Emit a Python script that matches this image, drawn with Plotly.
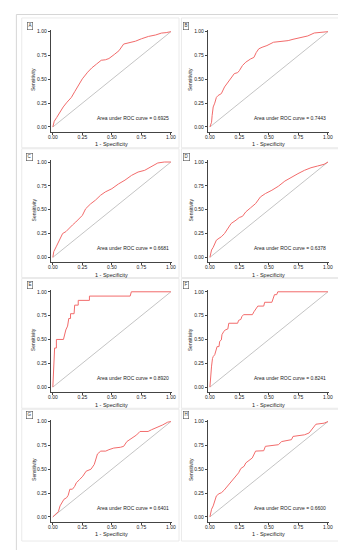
import plotly.graph_objects as go

# ---------------- data ----------------
panel_labels = ["A", "B", "C", "D", "E", "F", "G", "H"]
auc_values = ["0.6925", "0.7443", "0.6681", "0.6378", "0.8920", "0.8241", "0.6401", "0.6600"]

fpr_A = [0, 0.012, 0.033, 0.06, 0.088, 0.12, 0.157, 0.185, 0.21, 0.25, 0.295, 0.33, 0.37, 0.41, 0.445,
         0.475, 0.52, 0.56, 0.60, 0.65, 0.70, 0.75, 0.81, 0.87, 0.92, 0.96, 1.0]
tpr_A = [0, 0.06, 0.10, 0.16, 0.21, 0.26, 0.31, 0.37, 0.42, 0.505, 0.575, 0.62, 0.66, 0.70, 0.705,
         0.718, 0.76, 0.80, 0.87, 0.885, 0.90, 0.925, 0.95, 0.965, 0.985, 0.99, 1.0]

fpr_B = [0, 0.006, 0.014, 0.019, 0.028, 0.041, 0.055, 0.069, 0.097, 0.124, 0.152, 0.18, 0.207, 0.235,
         0.249, 0.276, 0.304, 0.345, 0.373, 0.392, 0.414, 0.442, 0.483, 0.539, 0.608, 0.663, 0.704,
         0.773, 0.829, 0.884, 0.939, 1.0]
tpr_B = [0, 0.035, 0.05, 0.12, 0.21, 0.25, 0.31, 0.33, 0.35, 0.42, 0.47, 0.52, 0.56, 0.57,
         0.59, 0.645, 0.68, 0.714, 0.73, 0.78, 0.82, 0.836, 0.854, 0.889, 0.895, 0.906, 0.92,
         0.94, 0.955, 0.986, 0.993, 1.0]

fpr_C = [0, 0.008, 0.028, 0.05, 0.069, 0.083, 0.111, 0.139, 0.167, 0.194, 0.222, 0.25, 0.278, 0.319,
         0.361, 0.403, 0.444, 0.5, 0.556, 0.611, 0.667, 0.722, 0.778, 0.833, 0.889, 0.944, 1.0]
tpr_C = [0, 0.06, 0.11, 0.164, 0.2, 0.25, 0.27, 0.30, 0.34, 0.37, 0.41, 0.44, 0.51, 0.56,
         0.6, 0.65, 0.686, 0.72, 0.77, 0.81, 0.86, 0.895, 0.913, 0.948, 0.99, 1.0, 1.0]

fpr_D = [0, 0.006, 0.014, 0.028, 0.041, 0.055, 0.077, 0.097, 0.124, 0.152, 0.18, 0.221, 0.249, 0.276,
         0.304, 0.345, 0.387, 0.428, 0.47, 0.525, 0.58, 0.635, 0.691, 0.746, 0.801, 0.856, 0.912,
         0.967, 1.0]
tpr_D = [0, 0.04, 0.077, 0.105, 0.146, 0.18, 0.2, 0.216, 0.25, 0.30, 0.355, 0.39, 0.418, 0.43,
         0.477, 0.52, 0.564, 0.634, 0.669, 0.704, 0.746, 0.80, 0.843, 0.878, 0.913, 0.94, 0.958,
         0.976, 1.0]

fpr_E = [0, 0.005, 0.01, 0.015, 0.03, 0.03, 0.09, 0.1, 0.11, 0.125, 0.135, 0.15, 0.15, 0.18, 0.185,
         0.215, 0.215, 0.31, 0.31, 0.655, 0.665, 1.0]
tpr_E = [0, 0.2, 0.32, 0.41, 0.41, 0.5, 0.5, 0.55, 0.6, 0.64, 0.72, 0.72, 0.77, 0.77, 0.86,
         0.86, 0.91, 0.91, 0.955, 0.955, 1.0, 1.0]

fpr_F = [0, 0.006, 0.014, 0.022, 0.028, 0.041, 0.055, 0.061, 0.077, 0.083, 0.097, 0.102, 0.116, 0.13,
         0.152, 0.160, 0.235, 0.243, 0.262, 0.271, 0.285, 0.36, 0.373, 0.392, 0.406, 0.456, 0.464,
         0.525, 0.533, 0.547, 0.566, 0.575, 1.0]
tpr_F = [0, 0.13, 0.22, 0.30, 0.32, 0.34, 0.39, 0.425, 0.425, 0.48, 0.495, 0.55, 0.58, 0.60,
         0.61, 0.67, 0.67, 0.70, 0.71, 0.74, 0.76, 0.76, 0.79, 0.826, 0.85, 0.85, 0.89,
         0.89, 0.93, 0.97, 0.97, 1.0, 1.0]

fpr_G = [0, 0.014, 0.033, 0.047, 0.061, 0.075, 0.094, 0.116, 0.130, 0.144, 0.166, 0.185, 0.199, 0.227,
         0.254, 0.282, 0.323, 0.351, 0.378, 0.406, 0.448, 0.475, 0.516, 0.572, 0.6, 0.627, 0.669,
         0.71, 0.738, 0.807, 0.834, 0.890, 0.931, 0.972, 1.0]
tpr_G = [0, 0.02, 0.045, 0.055, 0.115, 0.15, 0.184, 0.2, 0.226, 0.29, 0.29, 0.32, 0.358, 0.392,
         0.427, 0.479, 0.5, 0.55, 0.66, 0.69, 0.69, 0.705, 0.722, 0.73, 0.74, 0.79, 0.826,
         0.86, 0.896, 0.896, 0.913, 0.94, 0.965, 0.993, 1.0]

fpr_H = [0, 0.006, 0.014, 0.028, 0.041, 0.055, 0.077, 0.097, 0.119, 0.138, 0.166, 0.193, 0.221, 0.243,
         0.262, 0.290, 0.304, 0.331, 0.359, 0.387, 0.456, 0.47, 0.525, 0.58, 0.608, 0.691, 0.704,
         0.801, 0.840, 0.870, 0.898, 0.967, 1.0]
tpr_H = [0, 0.045, 0.08, 0.115, 0.167, 0.22, 0.243, 0.253, 0.278, 0.306, 0.358, 0.392, 0.427, 0.462,
         0.507, 0.531, 0.566, 0.59, 0.618, 0.69, 0.694, 0.74, 0.75, 0.757, 0.79, 0.81, 0.844,
         0.861, 0.88, 0.93, 0.972, 0.983, 1.0]

fpr_list = [fpr_A, fpr_B, fpr_C, fpr_D, fpr_E, fpr_F, fpr_G, fpr_H]
tpr_list = [tpr_A, tpr_B, tpr_C, tpr_D, tpr_E, tpr_F, tpr_G, tpr_H]

tick_vals = [0, 0.25, 0.5, 0.75, 1.0]
tick_text = ["0.00", "0.25", "0.50", "0.75", "1.00"]

# ---------------- layout geometry (pixels) ----------------
W, H = 346, 550
col_x0 = [42.7, 203.0]          # pixel of fpr = 0
unit_x = 120.5                  # pixels per unit on x
row_y1 = [22.7, 153.3, 283.3, 413.3]  # pixel of tpr = 1
unit_y = 95.5
label_x = [19, 179]
label_y = [17, 148, 277, 407]
box_x = [(11, 171.5), (174, 338.5)]
box_y = [(9, 139), (140, 269), (270, 400), (401, 533)]

FONT = "Liberation Sans, Arial, sans-serif"
RED = "#f26b6b"
AX = "#444444"

fig = go.Figure()
layout = dict(width=W, height=H, margin=dict(l=0, r=0, t=0, b=0),
              paper_bgcolor="white", plot_bgcolor="white", showlegend=False,
              font=dict(family=FONT, size=5, color="#222"))
annotations = []
shapes = []

def px(x):
    return x / W

def py(y):
    return 1 - y / H

# outer frame
shapes.append(dict(type="rect", xref="paper", yref="paper", x0=px(5.5), x1=px(340.5),
                   y0=py(545), y1=py(5.5), line=dict(color="#d6d6d6", width=1)))

for i in range(8):
    r, c = i // 2, i % 2
    xn = "x" if i == 0 else f"x{i+1}"
    yn = "y" if i == 0 else f"y{i+1}"
    xk = "xaxis" if i == 0 else f"xaxis{i+1}"
    yk = "yaxis" if i == 0 else f"yaxis{i+1}"
    x0 = col_x0[c]
    y1 = row_y1[r]
    lpad, rpad = 2.2, 1.5
    tpad, bpad = 2.0, 5.0
    layout[xk] = dict(domain=[px(x0 - lpad), px(x0 + unit_x + rpad)],
                      range=[-lpad / unit_x, 1 + rpad / unit_x], anchor=yn,
                      showline=True, linecolor=AX, linewidth=0.7, showgrid=False, zeroline=False,
                      ticks="outside", ticklen=2, tickwidth=0.7, tickcolor=AX,
                      tickvals=tick_vals, ticktext=tick_text, tickfont=dict(size=5, color="#222"),
                      ticklabelstandoff=-2, fixedrange=True)
    layout[yk] = dict(domain=[py(y1 + unit_y + bpad), py(y1 - tpad)],
                      range=[-bpad / unit_y, 1 + tpad / unit_y], anchor=xn,
                      showline=True, linecolor=AX, linewidth=0.7, showgrid=False, zeroline=False,
                      ticks="outside", ticklen=2, tickwidth=0.7, tickcolor=AX,
                      tickvals=tick_vals, ticktext=tick_text, tickfont=dict(size=5, color="#222"),
                      tickangle=0, fixedrange=True)
    # diagonal
    fig.add_trace(go.Scatter(x=[0, 1], y=[0, 1], mode="lines", xaxis=xn, yaxis=yn,
                             line=dict(color="#b5b5b5", width=0.8), hoverinfo="skip"))
    # ROC curve
    fig.add_trace(go.Scatter(x=fpr_list[i], y=tpr_list[i], mode="lines", xaxis=xn, yaxis=yn,
                             line=dict(color=RED, width=1)))
    # AUC text
    annotations.append(dict(text=f"Area under ROC curve = {auc_values[i]}", xref=xn, yref=yn,
                            x=1.0, y=0.094, xanchor="right", yanchor="middle", showarrow=False,
                            font=dict(size=5, color="#222")))
    # axis titles
    annotations.append(dict(text="Sensitivity", xref="paper", yref="paper",
                            x=px(x0 - 19.5), y=py(y1 + unit_y / 2), textangle=-90,
                            xanchor="center", yanchor="middle", showarrow=False,
                            font=dict(size=5, color="#222")))
    annotations.append(dict(text="1 - Specificity", xref="paper", yref="paper",
                            x=px(x0 + unit_x / 2), y=py(y1 + unit_y + 17.5),
                            xanchor="center", yanchor="middle", showarrow=False,
                            font=dict(size=5.5, color="#222")))
    # panel label
    annotations.append(dict(text=panel_labels[i], xref="paper", yref="paper",
                            x=px(label_x[c]), y=py(label_y[r]), xanchor="center", yanchor="middle",
                            showarrow=False, bordercolor="#555", borderwidth=0.6, borderpad=0.8,
                            font=dict(size=4.5, color="#333")))
    # panel box
    bx0, bx1 = box_x[c]
    by0, by1 = box_y[r]
    shapes.append(dict(type="rect", xref="paper", yref="paper", x0=px(bx0), x1=px(bx1),
                       y0=py(by1), y1=py(by0), line=dict(color="#e4e4e4", width=0.8)))

layout["annotations"] = annotations
layout["shapes"] = shapes
fig.update_layout(**layout)
fig.write_html("out.html")
